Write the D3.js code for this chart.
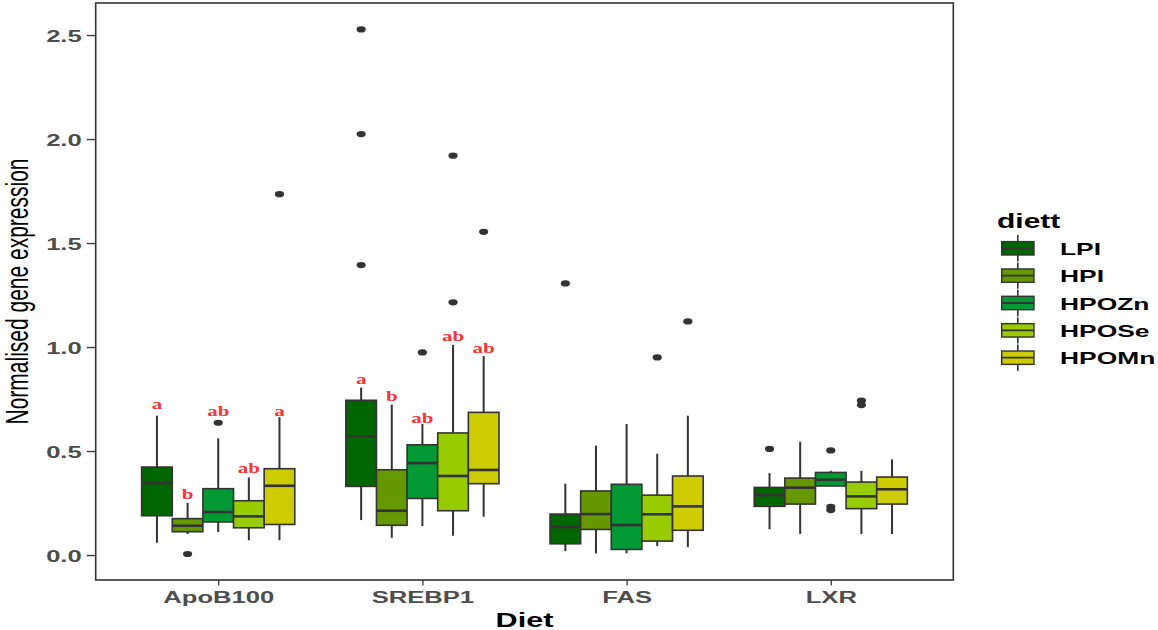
<!DOCTYPE html>
<html>
<head>
<meta charset="utf-8">
<script src="https://cdn.jsdelivr.net/npm/d3@7"></script>
<style>
  body { margin: 0; background: #fff; }
  svg { display: block; }
</style>
</head>
<body>
<svg width="1158" height="630"></svg>
<script>
var genes = ["ApoB100", "SREBP1", "FAS", "LXR"];
var diets = ["LPI", "HPI", "HPOZn", "HPOSe", "HPOMn"];
var dietColors = ["#006600", "#669900", "#009933", "#99cc00", "#cccc00"];
var yTicks = [0, 0.5, 1, 1.5, 2, 2.5];

// [lower whisker, q1, median, q3, upper whisker], one row per diet
var apob100Stats = [
  [0.059, 0.189, 0.346, 0.423, 0.670],
  [0.101, 0.112, 0.141, 0.175, 0.251],
  [0.111, 0.159, 0.207, 0.319, 0.561],
  [0.071, 0.131, 0.186, 0.261, 0.373],
  [0.071, 0.147, 0.333, 0.415, 0.663]
];
var srebp1Stats = [
  [0.168, 0.330, 0.571, 0.744, 0.805],
  [0.083, 0.143, 0.213, 0.410, 0.723],
  [0.139, 0.272, 0.442, 0.530, 0.630],
  [0.093, 0.213, 0.380, 0.587, 1.010],
  [0.184, 0.343, 0.409, 0.686, 0.957]
];
var fasStats = [
  [0.019, 0.054, 0.135, 0.197, 0.343],
  [0.008, 0.123, 0.197, 0.308, 0.526],
  [0.008, 0.027, 0.144, 0.340, 0.630],
  [0.043, 0.067, 0.196, 0.288, 0.487],
  [0.038, 0.119, 0.234, 0.380, 0.670]
];
var lxrStats = [
  [0.124, 0.234, 0.288, 0.325, 0.394],
  [0.101, 0.245, 0.324, 0.370, 0.545],
  [0.332, 0.332, 0.362, 0.397, 0.405],
  [0.101, 0.223, 0.282, 0.351, 0.405],
  [0.101, 0.245, 0.316, 0.375, 0.460]
];
var statsByGene = [apob100Stats, srebp1Stats, fasStats, lxrStats];

// outlying points: gene, diet, value
var outliers = [
  ["ApoB100", "HPI", 0.005], ["ApoB100", "HPOZn", 0.636], ["ApoB100", "HPOMn", 1.735],
  ["SREBP1", "LPI", 2.527], ["SREBP1", "LPI", 2.024], ["SREBP1", "LPI", 1.394],
  ["SREBP1", "HPOZn", 0.974], ["SREBP1", "HPOSe", 1.92], ["SREBP1", "HPOSe", 1.215],
  ["SREBP1", "HPOMn", 1.554],
  ["FAS", "LPI", 1.306], ["FAS", "HPOSe", 0.950], ["FAS", "HPOMn", 1.123],
  ["LXR", "LPI", 0.510], ["LXR", "HPOZn", 0.503], ["LXR", "HPOZn", 0.232],
  ["LXR", "HPOZn", 0.216], ["LXR", "HPOSe", 0.742], ["LXR", "HPOSe", 0.721]
];

// significance letters: gene, diet, letter, baseline value
var sigLetters = [
  ["ApoB100", "LPI", "a", 0.700], ["ApoB100", "HPI", "b", 0.269],
  ["ApoB100", "HPOZn", "ab", 0.668], ["ApoB100", "HPOSe", "ab", 0.396],
  ["ApoB100", "HPOMn", "a", 0.668],
  ["SREBP1", "LPI", "a", 0.821], ["SREBP1", "HPI", "b", 0.742],
  ["SREBP1", "HPOZn", "ab", 0.637], ["SREBP1", "HPOSe", "ab", 1.031],
  ["SREBP1", "HPOMn", "ab", 0.973]
];

var svg = d3.select("svg");
var sans = "'Liberation Sans', Arial, sans-serif";
var serif = "'Liberation Serif', 'DejaVu Serif', 'Times New Roman', serif";
var stretch = 1.6;

var panel = { left: 95.7, right: 953.3, top: 3, bottom: 580 };

var x = d3.scalePoint()
  .domain(genes)
  .range([panel.left, panel.right])
  .padding(0.6);
var step = x.step();

var dodge = d3.scaleBand()
  .domain(diets)
  .range([-0.375 * step, 0.375 * step]);

var y = d3.scaleLinear()
  .domain([-0.12, 2.654])
  .range([panel.bottom, panel.top]);

var color = d3.scaleOrdinal().domain(diets).range(dietColors);

// y axis
var yAxisG = svg.append("g")
  .attr("transform", "translate(" + panel.left + ",0)")
  .call(d3.axisLeft(y).tickValues(yTicks).tickSize(9).tickFormat(d3.format(".1f")));
yAxisG.select(".domain").remove();
yAxisG.selectAll("line").attr("stroke", "#333").attr("stroke-width", 1.3);
yAxisG.selectAll("text")
  .attr("x", null)
  .attr("dy", "0.4em")
  .attr("transform", "translate(-14,0) scale(" + stretch + ",1)")
  .attr("fill", "#4d4d4d")
  .style("font-family", sans)
  .style("font-weight", "bold")
  .style("font-size", "16px");

// x axis
var xAxisG = svg.append("g")
  .attr("transform", "translate(0," + panel.bottom + ")")
  .call(d3.axisBottom(x).tickSize(5.5));
xAxisG.select(".domain").remove();
xAxisG.selectAll("line").attr("stroke", "#333").attr("stroke-width", 1.3);
xAxisG.selectAll("text")
  .attr("y", null)
  .attr("dy", null)
  .attr("transform", "translate(0,23) scale(" + stretch + ",1)")
  .attr("fill", "#4d4d4d")
  .style("font-family", sans)
  .style("font-weight", "bold")
  .style("font-size", "16px");

// boxes
var boxData = [];
genes.forEach(function (gene, gi) {
  diets.forEach(function (diet, di) {
    var s = statsByGene[gi][di];
    boxData.push({ gene: gene, diet: diet, low: s[0], q1: s[1], med: s[2], q3: s[3], high: s[4] });
  });
});

var boxW = dodge.bandwidth();
var cx = function (d) { return x(d.gene) + dodge(d.diet) + boxW / 2; };

var boxes = svg.append("g").selectAll("g")
  .data(boxData)
  .join("g");

boxes.append("line")
  .attr("x1", cx).attr("x2", cx)
  .attr("y1", function (d) { return y(d.high); })
  .attr("y2", function (d) { return y(d.low); })
  .attr("stroke", "#333").attr("stroke-width", 2);

boxes.append("rect")
  .attr("x", function (d) { return x(d.gene) + dodge(d.diet); })
  .attr("width", boxW)
  .attr("y", function (d) { return y(d.q3); })
  .attr("height", function (d) { return y(d.q1) - y(d.q3); })
  .attr("fill", function (d) { return color(d.diet); })
  .attr("stroke", "#333").attr("stroke-width", 1.6);

boxes.append("line")
  .attr("x1", function (d) { return x(d.gene) + dodge(d.diet); })
  .attr("x2", function (d) { return x(d.gene) + dodge(d.diet) + boxW; })
  .attr("y1", function (d) { return y(d.med); })
  .attr("y2", function (d) { return y(d.med); })
  .attr("stroke", "#333").attr("stroke-width", 2.6);

// outliers
svg.append("g").selectAll("ellipse")
  .data(outliers)
  .join("ellipse")
  .attr("cx", function (d) { return x(d[0]) + dodge(d[1]) + boxW / 2; })
  .attr("cy", function (d) { return y(d[2]); })
  .attr("rx", 4.6).attr("ry", 3.1)
  .attr("fill", "#333");

// significance letters
svg.append("g").selectAll("text")
  .data(sigLetters)
  .join("text")
  .attr("transform", function (d) {
    return "translate(" + (x(d[0]) + dodge(d[1]) + boxW / 2) + "," + y(d[3]) + ") scale(1.4,1)";
  })
  .attr("text-anchor", "middle")
  .attr("fill", "#ff3333")
  .style("font-family", serif)
  .style("font-weight", "bold")
  .style("font-size", "15px")
  .text(function (d) { return d[2]; });

// panel border
svg.append("rect")
  .attr("x", panel.left).attr("y", panel.top)
  .attr("width", panel.right - panel.left)
  .attr("height", panel.bottom - panel.top)
  .attr("fill", "none")
  .attr("stroke", "#333").attr("stroke-width", 1.6);

// axis titles
svg.append("text")
  .attr("transform", "translate(" + ((panel.left + panel.right) / 2) + ",627) scale(1.57,1)")
  .attr("text-anchor", "middle")
  .style("font-family", sans)
  .style("font-weight", "bold")
  .style("font-size", "19.5px")
  .text("Diet");

svg.append("text")
  .attr("transform", "translate(28," + ((panel.top + panel.bottom) / 2) + ") scale(1.45,1) rotate(-90)")
  .attr("text-anchor", "middle")
  .style("font-family", sans)
  .style("font-size", "21px")
  .text("Normalised gene expression");

// legend
var legend = svg.append("g");
legend.append("text")
  .attr("transform", "translate(997,228) scale(1.5,1)")
  .style("font-family", sans)
  .style("font-weight", "bold")
  .style("font-size", "20px")
  .text("diett");

var keyY = d3.scalePoint().domain(diets).range([248.3, 357.7]);
var keys = legend.selectAll("g.key")
  .data(diets)
  .join("g")
  .attr("class", "key")
  .attr("transform", function (d) { return "translate(0," + keyY(d) + ")"; });

keys.append("line")
  .attr("x1", 1017.8).attr("x2", 1017.8)
  .attr("y1", -13.2).attr("y2", 13.2)
  .attr("stroke", "#333").attr("stroke-width", 1.6);
keys.append("rect")
  .attr("x", 1001.7).attr("y", -6.7)
  .attr("width", 32.3).attr("height", 13.4)
  .attr("fill", function (d) { return color(d); })
  .attr("stroke", "#333").attr("stroke-width", 1.4);
keys.append("line")
  .attr("x1", 1001.7).attr("x2", 1034)
  .attr("y1", 0).attr("y2", 0)
  .attr("stroke", "#333").attr("stroke-width", 1.8);
keys.append("text")
  .attr("transform", "translate(1060,6.5) scale(" + stretch + ",1)")
  .style("font-family", sans)
  .style("font-weight", "bold")
  .style("font-size", "16.5px")
  .text(function (d) { return d; });
</script>
</body>
</html>
